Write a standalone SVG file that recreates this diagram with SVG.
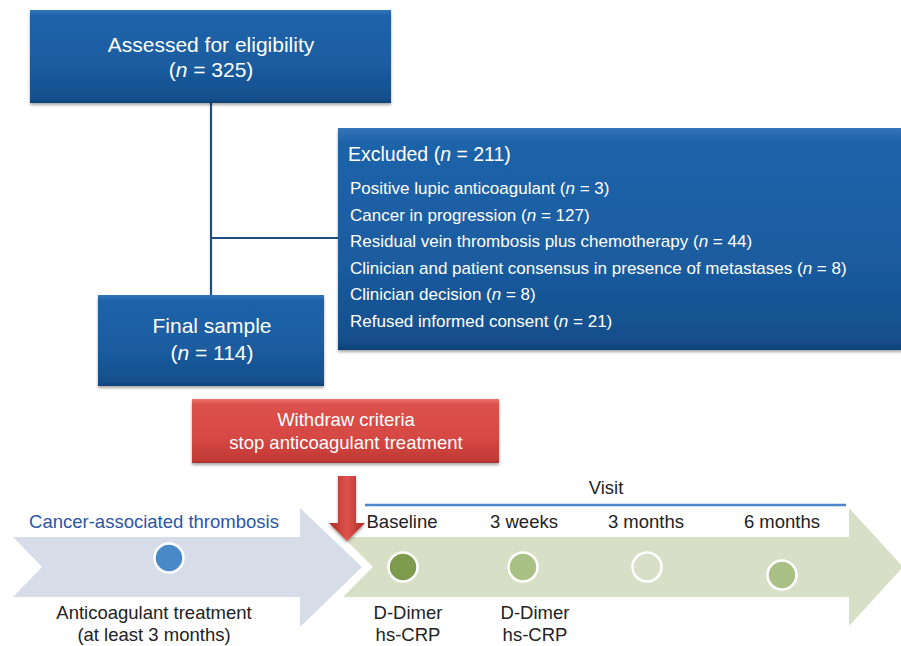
<svg xmlns="http://www.w3.org/2000/svg" width="901" height="646" viewBox="0 0 901 646">
<defs>
<linearGradient id="gBlue" x1="0" y1="0" x2="0" y2="1">
<stop offset="0" stop-color="#3475b9"/>
<stop offset="0.06" stop-color="#1f63aa"/>
<stop offset="0.6" stop-color="#1a5c9f"/>
<stop offset="0.95" stop-color="#144f8c"/>
<stop offset="1" stop-color="#0f4277"/>
</linearGradient>
<linearGradient id="gRed" x1="0" y1="0" x2="0" y2="1">
<stop offset="0" stop-color="#ec7470"/>
<stop offset="0.08" stop-color="#dc524d"/>
<stop offset="0.6" stop-color="#d64843"/>
<stop offset="0.95" stop-color="#c23a35"/>
<stop offset="1" stop-color="#a82f2b"/>
</linearGradient>
<linearGradient id="gArrow" x1="0" y1="0" x2="1" y2="0">
<stop offset="0" stop-color="#a92a26"/>
<stop offset="0.5" stop-color="#e0534e"/>
<stop offset="1" stop-color="#a92a26"/>
</linearGradient>
<filter id="shadow" x="-5%" y="-10%" width="110%" height="125%">
<feDropShadow dx="0" dy="2" stdDeviation="1.5" flood-color="#000" flood-opacity="0.35"/>
</filter>
<style>
.box{fill:url(#gBlue);filter:url(#shadow);}
.red{fill:url(#gRed);filter:url(#shadow);}
.wt{fill:#ffffff;font-family:"Liberation Sans",Arial,sans-serif;}
.big{font-size:21px;text-anchor:middle;}
.hd{font-size:19.5px;}
.li{font-size:17px;}
.rt{font-size:18.5px;text-anchor:middle;}
.tl{font-family:"Liberation Sans",Arial,sans-serif;font-size:18.5px;fill:#222222;text-anchor:middle;}
.it{font-style:italic;}
.conn{stroke:#1d4d82;stroke-width:2.2;fill:none;}
.dot{stroke:#ffffff;stroke-width:2.5;}
</style>
</defs>
<rect width="901" height="646" fill="#ffffff"/>

<g id="connectors">
<line class="conn" x1="211" y1="103" x2="211" y2="295"/>
<line class="conn" x1="211" y1="238" x2="338" y2="238"/>
</g>

<g id="assessed">
<rect class="box" x="30" y="10" width="361" height="93"/>
<text class="wt big" x="211" y="52">Assessed for eligibility</text>
<text class="wt big" x="211" y="77">(<tspan class="it">n</tspan> = 325)</text>
</g>

<g id="excluded">
<rect class="box" x="338" y="128" width="566" height="222"/>
<text class="wt hd" x="348" y="161">Excluded (<tspan class="it">n</tspan> = 211)</text>
<text class="wt li" x="350" y="194">Positive lupic anticoagulant (<tspan class="it">n</tspan> = 3)</text>
<text class="wt li" x="350" y="220.5">Cancer in progression (<tspan class="it">n</tspan> = 127)</text>
<text class="wt li" x="350" y="247">Residual vein thrombosis plus chemotherapy (<tspan class="it">n</tspan> = 44)</text>
<text class="wt li" x="350" y="273.5">Clinician and patient consensus in presence of metastases (<tspan class="it">n</tspan> = 8)</text>
<text class="wt li" x="350" y="300">Clinician decision (<tspan class="it">n</tspan> = 8)</text>
<text class="wt li" x="350" y="326.5">Refused informed consent (<tspan class="it">n</tspan> = 21)</text>
</g>

<g id="final">
<rect class="box" x="98" y="295" width="226" height="91"/>
<text class="wt big" x="212" y="333">Final sample</text>
<text class="wt big" x="212" y="360">(<tspan class="it">n</tspan> = 114)</text>
</g>

<g id="withdraw">
<rect class="red" x="192" y="399" width="307" height="64"/>
<text class="wt rt" x="346" y="426">Withdraw criteria</text>
<text class="wt rt" x="346" y="448.5">stop anticoagulant treatment</text>
</g>

<g id="timeline">
<path d="M343,537 H849 V508 L903,567 L849,626 V597 H343 L373,567 Z" fill="#d7e0c6"/>
<path d="M13,537 H300 V508 L362,567 L300,627 V597 H13 L42,567 Z" fill="#d6dde8"/>
<line x1="365" y1="505" x2="846" y2="505" stroke="#4a86c8" stroke-width="2.5"/>
<text class="tl" x="606" y="494">Visit</text>
<text class="tl" x="154" y="528" fill="#2c55a6" style="fill:#2c55a6">Cancer-associated thrombosis</text>
<text class="tl" x="154" y="619">Anticoagulant treatment</text>
<text class="tl" x="154" y="641">(at least 3 months)</text>
<text class="tl" x="402" y="528">Baseline</text>
<text class="tl" x="524" y="528">3 weeks</text>
<text class="tl" x="646" y="528">3 months</text>
<text class="tl" x="782" y="528">6 months</text>
<text class="tl" x="408" y="619">D-Dimer</text>
<text class="tl" x="408" y="641">hs-CRP</text>
<text class="tl" x="535" y="619">D-Dimer</text>
<text class="tl" x="535" y="641">hs-CRP</text>
<circle class="dot" cx="169" cy="558" r="14.5" fill="#4a89c8"/>
<circle class="dot" cx="403" cy="567" r="14.5" fill="#7e9b4d"/>
<circle class="dot" cx="523" cy="567" r="14.5" fill="#a9c184"/>
<circle class="dot" cx="647" cy="567" r="14.5" fill="#d7e0c6"/>
<circle class="dot" cx="782" cy="575" r="14.5" fill="#a9c184"/>
</g>

<g id="red-arrow">
<path d="M338,476 H356 V523 H365 L347,541 L329,523 H338 Z" fill="url(#gArrow)" filter="url(#shadow)"/>
</g>
</svg>
